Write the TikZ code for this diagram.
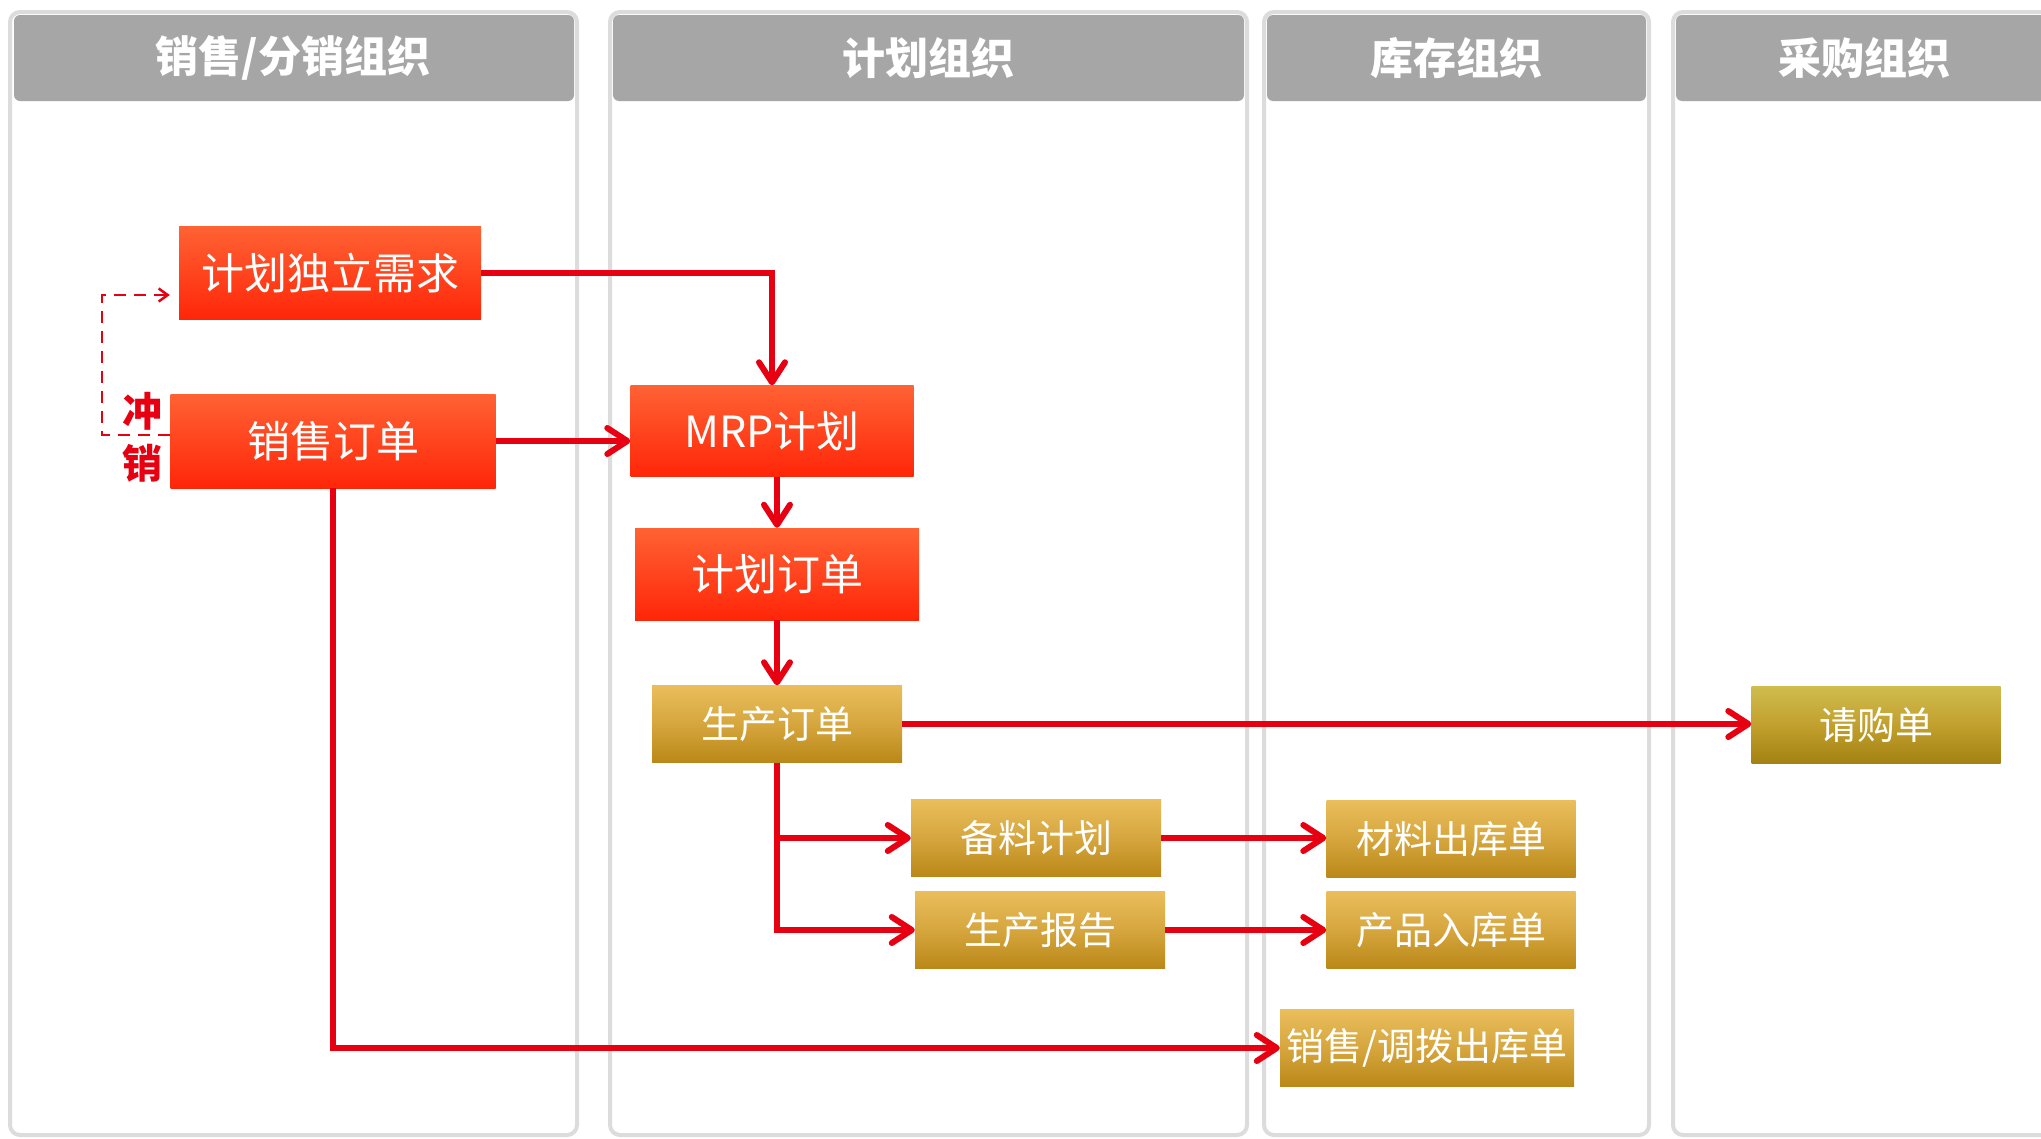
\documentclass[tikz,border=0pt]{standalone}
\usepackage{fontspec}
\newfontfamily\cjk{Noto Sans CJK SC}
\usepackage{tikz}
\usetikzlibrary{arrows.meta, positioning}
\definecolor{flowred}{RGB}{230,0,18}
\definecolor{lanegray}{RGB}{166,166,166}
\definecolor{laneline}{RGB}{220,220,220}
\definecolor{redtop}{RGB}{255,98,52}
\definecolor{redbot}{RGB}{255,38,8}
\definecolor{goldtop}{RGB}{234,190,92}
\definecolor{goldmid}{RGB}{214,166,62}
\definecolor{goldbot}{RGB}{186,136,24}
\definecolor{olivetop}{RGB}{206,188,78}
\definecolor{olivemid}{RGB}{194,160,46}
\definecolor{olivebot}{RGB}{164,130,18}

\begin{document}
\begin{tikzpicture}[
    x=1pt, y=-1pt,
    lane/.style={
      draw=laneline, 
      line width=4pt, 
      fill=white, 
      rounded corners=10pt
    },
    head/.style={
      fill=lanegray, 
      rounded corners=6pt
    },
    headtext/.style={
      text=white, 
      font=\cjk\bfseries\fontsize{43}{50}\selectfont
    },
    redbox/.style={
      top color=redtop, bottom color=redbot,
      text=white, 
      font=\cjk\fontsize{43}{50}\selectfont,
      inner sep=0pt
    },
    goldbox/.style={
      top color=goldtop, bottom color=goldbot, middle color=goldmid,
      text=white, 
      font=\cjk\fontsize{38}{44}\selectfont,
      inner sep=0pt,
      minimum width=250pt,
      minimum height=77pt
    },
    flow/.style={
      draw=flowred, 
      line width=6pt, 
      -{Straight Barb[length=20pt,width=26pt,round]}
    },
    writeoff/.style={
      draw=flowred, 
      line width=2.5pt, 
      dash pattern=on 12pt off 8pt, 
      -{Straight Barb[length=9pt,width=13pt]}
    }
]
  \useasboundingbox (0,0) rectangle (2041,1138);

  % Swim lanes with their headers
  \draw[lane] (10,12) rectangle (577,1135);
  \draw[lane] (610,12) rectangle (1247,1135);
  \draw[lane] (1264,12) rectangle (1649,1135);
  \draw[lane] (1673,12) rectangle (2056,1135);

  \fill[head] (14,15) rectangle (574,101);
  \fill[head] (613,15) rectangle (1244,101);
  \fill[head] (1267,15) rectangle (1646,101);
  \fill[head] (1676,15) rectangle (2053,101);

  \node[headtext] (salehd)  at (293,58)  {销售/分销组织};
  \node[headtext] (planhd)  at (928,58)  {计划组织};
  \node[headtext] (stockhd) at (1456,58) {库存组织};
  \node[headtext] (buyhd)   at (1864,58) {采购组织};

  % Planning boxes
  \node[redbox, minimum width=302pt, minimum height=93pt] (req)  at (330,273) {计划独立需求};
  \node[redbox, minimum width=325pt, minimum height=94pt] (so)   at (333,441) {销售订单};
  \node[redbox, minimum width=283pt, minimum height=91pt] (mrp)  at (772,431) {MRP计划};
  \node[redbox, minimum width=284pt, minimum height=92pt] (plan) at (777,574) {计划订单};

  % Execution documents
  \node[goldbox] (prod) at (777,724)  {生产订单};
  \node[goldbox] (prep) at (1036,838) {备料计划};
  \node[goldbox] (rpt)  at (1040,930) {生产报告};
  \node[goldbox, minimum width=249pt] (mout) at (1451,839) {材料出库单};
  \node[goldbox, minimum width=249pt] (pin)  at (1451,930) {产品入库单};
  \node[goldbox, minimum width=294pt] (sout) at (1427,1048) {销售/调拨出库单};
  \node[goldbox, minimum width=249pt, top color=olivetop, bottom color=olivebot,
        middle color=olivemid] (pr) at (1876,725) {请购单};

  % Connecting arrows
  \draw[flow] (req.east) -| (mrp.north);
  \draw[flow] (so.east) -- (so.east -| mrp.west);
  \draw[flow] (mrp.south -| plan.north) -- (plan.north);
  \draw[flow] (plan) -- (prod);
  \draw[flow] (prod.east) -- (prod.east -| pr.west);
  \draw[flow] (prod.south) |- (prep.west);
  \draw[flow] (prod.south) |- (rpt.west);
  \draw[flow] (prep.east) -- (prep.east -| mout.west);
  \draw[flow] (rpt.east) -- (rpt.east -| pin.west);
  \draw[flow] (so.south) |- (sout.west);

  % Write-off loop back to the independent demand
  \coordinate (wotop) at (102,295);
  \coordinate (wobot) at (102,435);
  \draw[writeoff, shorten >=9pt] (so.west |- wobot) -- (wobot) -- (wotop) -- (wotop -| req.west);
  \node[text=flowred, font=\cjk\bfseries\fontsize{40}{52}\selectfont, align=center] (wolabel)
    at (142,437) {冲\\销};
\end{tikzpicture}
\end{document}
